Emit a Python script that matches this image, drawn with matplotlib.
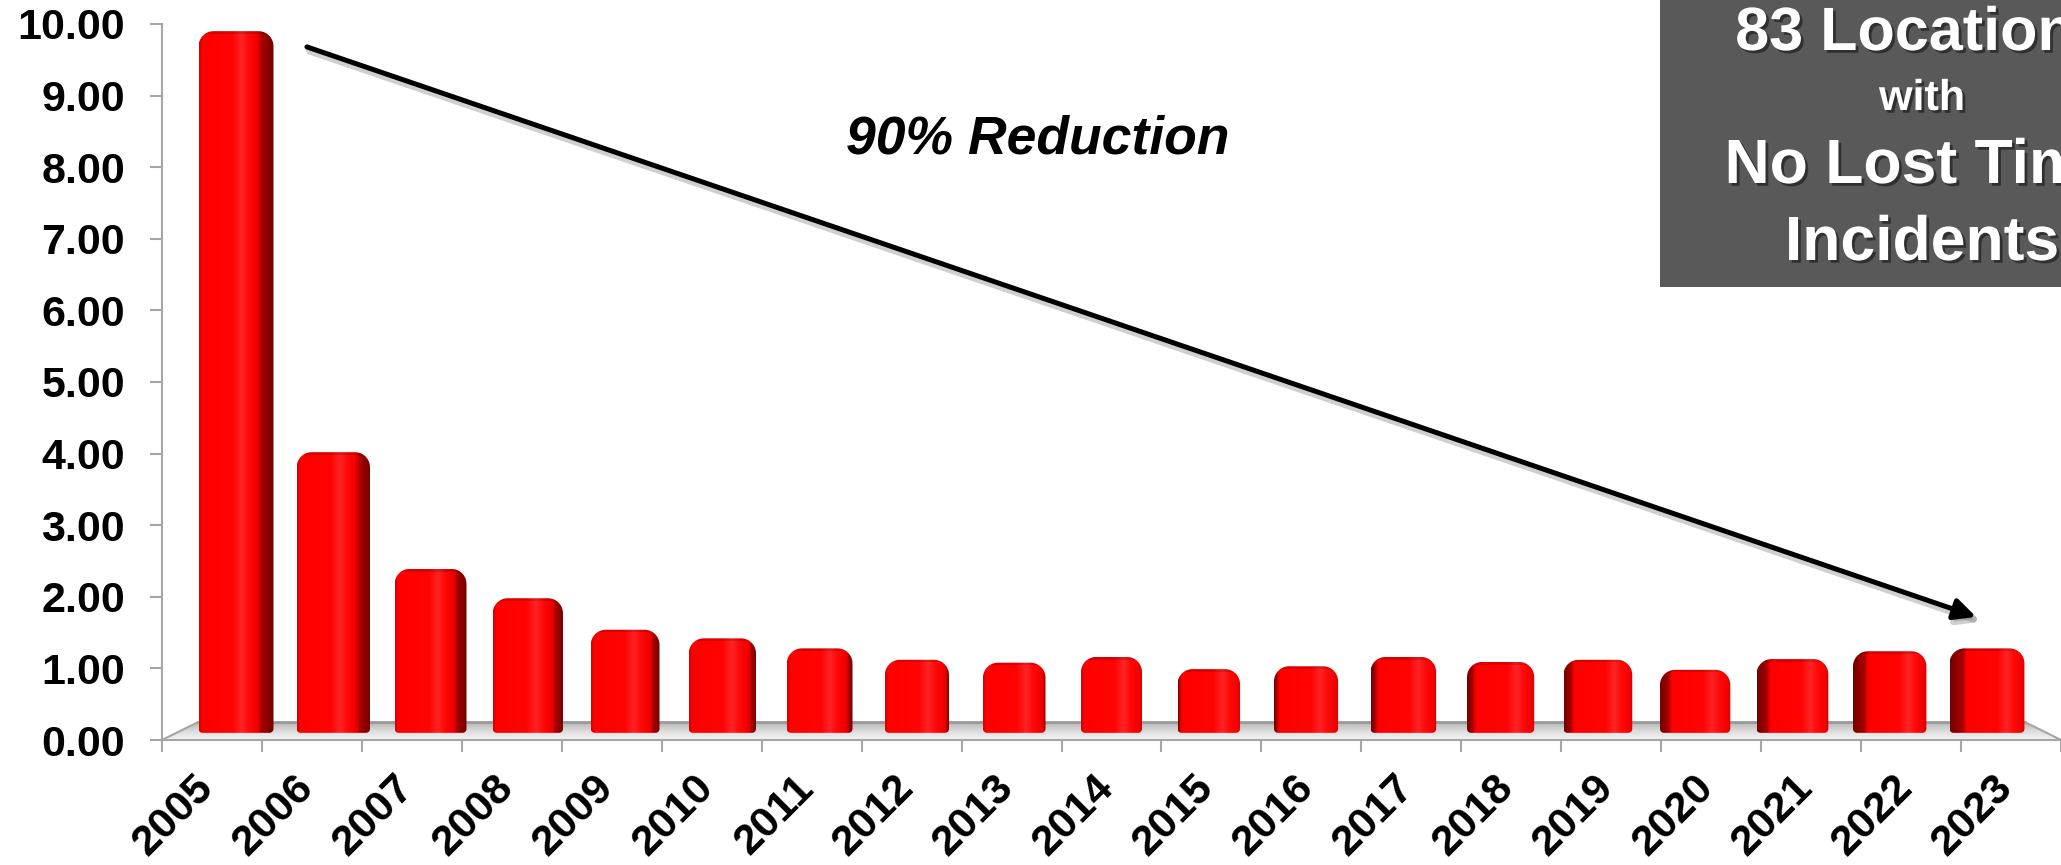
import matplotlib
matplotlib.use("Agg")
import matplotlib.pyplot as plt
import numpy as np
from matplotlib import patheffects, transforms
from matplotlib.colors import LinearSegmentedColormap, to_rgb
from matplotlib.patches import Polygon, Rectangle

years = [str(y) for y in range(2005, 2024)]
incident_rate = [9.80, 3.92, 2.29, 1.88, 1.44, 1.32, 1.18, 1.02, 0.98, 1.06,
                 0.89, 0.93, 1.06, 0.99, 1.02, 0.88, 1.03, 1.14, 1.18]
y_ticks = list(range(0, 11))
callout_lines = ["83 Locations", "with", "No Lost Time", "Incidents"]
trend_label = "90% Reduction"

W, H, DPI = 2061, 865, 100
plt.rcParams["font.family"] = ["Liberation Sans", "DejaVu Sans"]
plt.rcParams["font.weight"] = "bold"

fig = plt.figure(figsize=(W / DPI, H / DPI), dpi=DPI)


def fig_box(left, top, right, bottom):
    return [left / W, 1 - bottom / H, (right - left) / W, (bottom - top) / H]


AX_L, AX_T, AX_B = 162, 24, 740
ax = fig.add_axes(fig_box(AX_L, AX_T, W, AX_B))
ax.set_facecolor("none")
n = len(years)
px_x = (W - AX_L) / n
px_y = (AX_B - AX_T) / 10

# floor of the 3-D plot area
dx, dy = 0.36, 0.25
floor = Polygon([(-0.5, 0), (-0.5 + dx, dy), (n - 0.5 - dx, dy), (n - 0.5, 0)],
                closed=True, facecolor="none", edgecolor="none")
ax.add_patch(floor)
floor_cmap = LinearSegmentedColormap.from_list("floor", ["#b4b4b4", "#dcdcdc", "#f6f6f6"])
fimg = ax.imshow(np.linspace(0, 1, 64)[:, None], cmap=floor_cmap, aspect="auto",
                 extent=(-0.5, n - 0.5, 0, dy), origin="upper", zorder=1)
fimg.set_clip_path(floor)
ax.plot([-0.5 + dx, n - 0.5 - dx], [dy, dy], color="#999999", lw=2, zorder=1.5)
ax.plot([-0.5, -0.5 + dx], [0, dy], color="#a6a6a6", lw=1.5, zorder=1.5)
ax.plot([n - 0.5, n - 0.5 - dx], [0, dy], color="#a6a6a6", lw=1.5, zorder=1.5)


def rounded_outline(x0, x1, y0, y1, rt=15, rb=4):
    rtx, rty = rt / px_x, min(rt / px_y, (y1 - y0) / 2)
    rbx, rby = rb / px_x, rb / px_y

    def arc(cx, cy, rx, ry, a0, a1):
        t = np.radians(np.linspace(a0, a1, 14))
        return np.column_stack([cx + rx * np.cos(t), cy + ry * np.sin(t)])

    return np.vstack([
        arc(x0 + rbx, y0 + rby, rbx, rby, 180, 270),
        arc(x1 - rbx, y0 + rby, rbx, rby, 270, 360),
        arc(x1 - rtx, y1 - rty, rtx, rty, 0, 90),
        arc(x0 + rtx, y1 - rty, rtx, rty, 90, 180),
    ])


face_stops = [0.0, 0.05, 0.55, 0.70, 0.82, 0.95, 1.0]
face_cols = np.array([to_rgb(c) for c in
                      ["#d00000", "#ff0000", "#ff0303", "#ff2424", "#ff0808", "#f20000", "#d40000"]])
side_cols = np.array([to_rgb("#b00000"), to_rgb("#720000")])


def bar_image(face_w, side_w, side_right, height_px):
    ncol = 160
    total = face_w + side_w
    xs = np.linspace(0, total, ncol)
    if not side_right:
        xs = total - xs
    rgb = np.zeros((ncol, 3))
    for k, s in enumerate(xs):
        if s <= face_w:
            f = s / face_w
            if not side_right:
                f = 1 - f
            rgb[k] = [np.interp(f, face_stops, face_cols[:, c]) for c in range(3)]
        else:
            t = (s - face_w) / max(side_w, 1e-9)
            rgb[k] = side_cols[0] * (1 - t) + side_cols[1] * t
    nrow = max(int(height_px), 4)
    img = np.repeat(rgb[None, :, :], nrow, axis=0)
    d = np.arange(nrow)[:, None, None]
    shade = np.where(d < 3, 0.85, 1.0)
    return np.clip(img * shade, 0, 1)


# bars sit slightly behind the front edge, so they converge a little toward the middle
mid = (n - 1) / 2
centers = mid + (np.arange(n) - mid) * 0.981
lift = 0.1
bars = ax.bar(centers, incident_rate, width=0.61, bottom=lift, color="none",
              edgecolor="none", zorder=3)

for i, rect in enumerate(bars):
    x0, w = rect.get_x(), rect.get_width()
    y0, h = rect.get_y(), rect.get_height()
    side = 0.0155 * abs(i - mid)
    side_right = i < mid
    xa, xb = (x0, x0 + w + side) if side_right else (x0 - side, x0 + w)
    outline = Polygon(rounded_outline(xa, xb, y0, y0 + h), closed=True,
                      facecolor="none", edgecolor="none", zorder=3)
    ax.add_patch(outline)
    im = ax.imshow(bar_image(w, side, side_right, h * px_y), aspect="auto",
                   extent=(xa, xb, y0, y0 + h), origin="upper", zorder=3,
                   interpolation="bilinear")
    im.set_clip_path(outline)

ax.set_xlim(-0.5, n - 0.5)
ax.set_ylim(0, 10)

for s in ("top", "right"):
    ax.spines[s].set_visible(False)
for s in ("left", "bottom"):
    ax.spines[s].set_color("#a6a6a6")
    ax.spines[s].set_linewidth(1.5)

ax.set_yticks(y_ticks)
ax.set_yticklabels([f"{v:.2f}" for v in y_ticks])
ax.tick_params(axis="y", length=8.6, width=1.5, color="#a6a6a6", pad=18, labelsize=31)

ax.set_xticks(np.arange(n + 1) - 0.5)
ax.set_xticklabels([""] * (n + 1))
ax.set_xticks(np.arange(n), years, minor=True)
ax.tick_params(axis="x", which="major", length=8.6, width=1.5, color="#a6a6a6")
ax.tick_params(axis="x", which="minor", length=0, pad=20, labelsize=31, labelrotation=45)
shift = transforms.ScaledTranslation(10 / DPI, 0, fig.dpi_scale_trans)
for lab in ax.get_xticklabels(minor=True):
    lab.set_ha("right")
    lab.set_transform(lab.get_transform() + shift)

# trend arrow from the first year down to the last
arr = ax.annotate("", xy=(17.65, 1.72), xytext=(0.95, 9.68),
                  arrowprops=dict(arrowstyle="-|>,head_length=0.65,head_width=0.32",
                                  color="black", lw=3.6, mutation_scale=20,
                                  shrinkA=0, shrinkB=0),
                  annotation_clip=False, zorder=5)
arr.arrow_patch.set_path_effects([
    patheffects.SimpleLineShadow(offset=(2, -3), shadow_color="#777777", alpha=0.35, linewidth=5),
    patheffects.SimplePatchShadow(offset=(2, -3), shadow_rgbFace="#777777", alpha=0.35),
    patheffects.Normal(),
])

fig.text(1038 / W, 1 - 139 / H, trend_label, ha="center", va="center",
         fontsize=38.5, style="italic", weight="bold", color="black")

# callout box in the upper right
fig.add_artist(Rectangle((1660 / W, 1 - 287 / H), (W - 1660) / W + 0.1, 287 / H + 0.1,
                         transform=fig.transFigure, facecolor="#595959",
                         edgecolor="none", zorder=2))
baselines = [50, 110, 183, 260]
sizes = [44, 31, 45, 45]
shadow = [patheffects.withSimplePatchShadow(offset=(2, -2), shadow_rgbFace="black", alpha=0.45)]
for line, base, size in zip(callout_lines, baselines, sizes):
    fig.text(1922 / W, 1 - base / H, line, ha="center", va="baseline", fontsize=size,
             weight="bold", color="white", zorder=3, path_effects=shadow)

fig.savefig("out.png", dpi=DPI)
